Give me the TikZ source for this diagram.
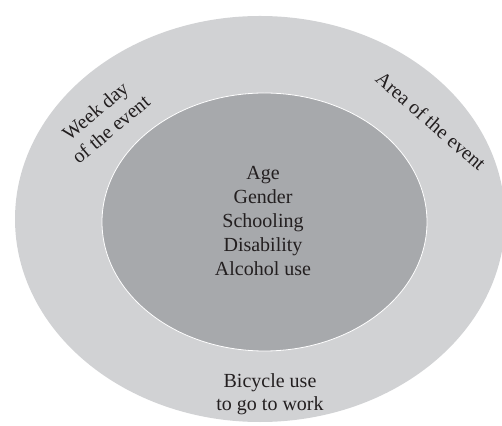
\documentclass[tikz,border=0pt]{standalone}
\usepackage{fontspec}
\setmainfont{Liberation Serif}
\definecolor{ringgray}{HTML}{D1D2D4}
\definecolor{coregray}{HTML}{A7A9AC}
\definecolor{inkgray}{HTML}{231F20}
\begin{document}
\begin{tikzpicture}[x=1pt,y=1pt,
  lbl/.style={align=center,text=inkgray,inner sep=0pt,
    font=\fontsize{20}{24}\selectfont}]
\useasboundingbox (0,0) rectangle (502,425);
\clip (0,0) rectangle (502,425);
% outer ring and inner core
\fill[ringgray] (260,206) ellipse [x radius=245, y radius=203];
\filldraw[fill=coregray, draw=white, line width=0.8pt]
  (264.5,203) ellipse [x radius=162.5, y radius=129];
% labels
\node[lbl] (core) at (263,204) {Age\\Gender\\Schooling\\Disability\\Alcohol use};
\node[lbl, rotate=40] (week) at (103,305) {Week day\\of the event};
\node[lbl, rotate=-41] (area) at (431,304) {Area of the event};
\node[lbl, font=\fontsize{20}{23}\selectfont] (bike) at (270,31) {Bicycle use\\to go to work};
\end{tikzpicture}
\end{document}
